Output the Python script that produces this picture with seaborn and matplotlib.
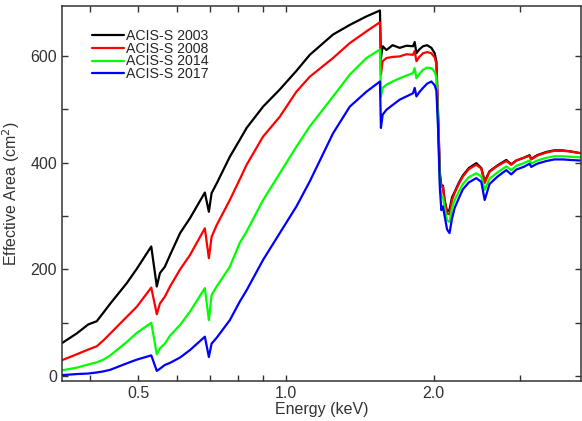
import numpy as np
import pandas as pd
import matplotlib
matplotlib.use("Agg")
import matplotlib.pyplot as plt
from matplotlib.ticker import FixedLocator, NullFormatter, FixedFormatter
import seaborn as sns

energy = [0.35, 0.375, 0.396, 0.412, 0.425, 0.439, 0.474, 0.497, 0.532, 0.546,
          0.554, 0.567, 0.581, 0.609, 0.638, 0.684, 0.697, 0.706, 0.723, 0.769,
          0.806, 0.832, 0.899, 0.972, 1.051, 1.119, 1.248, 1.350, 1.460, 1.555,
          1.562, 1.575, 1.603, 1.65, 1.706, 1.76, 1.816, 1.830, 1.845, 1.87,
          1.903, 1.94, 1.979, 2.010, 2.026, 2.041, 2.060, 2.074, 2.089, 2.106,
          2.13, 2.155, 2.18, 2.207, 2.25, 2.294, 2.36, 2.443, 2.501, 2.541,
          2.600, 2.70, 2.812, 2.878, 2.947, 3.05, 3.136, 3.161, 3.25, 3.392,
          3.52, 3.666, 3.80, 3.964, 4.0]

area_2003 = [62, 80, 97, 103, 119, 136, 174, 201, 243, 168,
             193, 205, 227, 268, 296, 344, 308, 343, 361, 411,
             443, 465, 505, 537, 572, 602, 640, 658, 674, 685,
             596, 618, 611, 620, 615, 619, 618, 626, 605, 612,
             618, 620, 615, 605, 590, 500, 380, 355, 357, 330,
             308, 312, 335, 345, 362, 376, 390, 399, 390, 365,
             384, 395, 405, 397, 404, 409, 414, 407, 414, 420,
             423, 423, 421, 418, 418]

area_2008 = [30, 41, 50, 56, 67, 80, 111, 130, 166, 116,
             136, 149, 168, 200, 227, 277, 221, 261, 283, 330,
             369, 396, 449, 486, 533, 561, 596, 624, 646, 663,
             565, 590, 596, 598, 599, 603, 602, 609, 590, 598,
             605, 607, 605, 597, 585, 495, 375, 355, 355, 328,
             305, 303, 330, 343, 360, 374, 388, 396, 389, 362,
             383, 394, 403, 396, 404, 409, 413, 406, 413, 419,
             422, 422, 421, 418, 418]

area_2014 = [11, 16, 22, 26, 31, 39, 64, 81, 100, 41,
             52, 61, 76, 96, 121, 165, 105, 152, 168, 205,
             250, 271, 330, 380, 430, 468, 524, 565, 596, 612,
             524, 540, 546, 552, 558, 563, 568, 577, 558, 566,
             574, 578, 577, 570, 560, 480, 360, 336, 336, 315,
             292, 289, 315, 330, 345, 360, 373, 380, 374, 349,
             370, 382, 393, 386, 394, 399, 404, 398, 404, 409,
             412, 412, 411, 410, 410]

area_2017 = [2, 4, 5, 7, 9, 12, 24, 31, 39, 10,
             14, 21, 25, 35, 49, 74, 36, 61, 72, 105,
             140, 161, 218, 268, 318, 365, 455, 505, 533, 552,
             465, 490, 499, 508, 518, 524, 530, 540, 524, 532,
             540, 548, 552, 545, 535, 470, 350, 311, 318, 300,
             275, 268, 295, 315, 333, 350, 363, 371, 364, 330,
             360, 374, 386, 378, 387, 392, 398, 392, 398, 403,
             406, 406, 405, 404, 404]

labels = ["ACIS-S 2003", "ACIS-S 2008", "ACIS-S 2014", "ACIS-S 2017"]
colors = ["#000000", "#ff0000", "#00ff00", "#0000ff"]
x_major = [0.5, 1.0, 2.0]
x_major_labels = ["0.5", "1.0", "2.0"]
x_minor = [0.4, 0.6, 0.7, 0.8, 0.9, 3.0]

frames = []
for lab, vals in zip(labels, [area_2003, area_2008, area_2014, area_2017]):
    frames.append(pd.DataFrame({"Energy": energy, "Area": vals, "Series": lab}))
df = pd.concat(frames, ignore_index=True)

sns.set_style("ticks")
plt.rcParams['font.family'] = ['Liberation Sans', 'DejaVu Sans']

fig = plt.figure(figsize=(5.82, 4.21), dpi=100)
ax = fig.add_axes([0.1065, 0.095, 0.8925, 0.8915])

sns.lineplot(data=df, x="Energy", y="Area", hue="Series", palette=colors,
             hue_order=labels, sort=False, estimator=None, linewidth=1.6, ax=ax)

ax.set_xscale("log")
ax.set_xlim(0.35, 4.0)
ax.set_ylim(-9, 694)
ax.xaxis.set_major_locator(FixedLocator(x_major))
ax.xaxis.set_major_formatter(FixedFormatter(x_major_labels))
ax.xaxis.set_minor_locator(FixedLocator(x_minor))
ax.xaxis.set_minor_formatter(NullFormatter())
ax.yaxis.set_major_locator(FixedLocator([0, 200, 400, 600]))
ax.yaxis.set_minor_locator(FixedLocator([100, 300, 500]))

ax.tick_params(which="both", direction="in", top=True, right=True,
               length=4.5, width=1, color="#333333", labelsize=11.5, labelcolor="#333333")
for sp in ax.spines.values():
    sp.set_color("#333333")
    sp.set_linewidth(1.1)

ax.set_xlabel("Energy (keV)", fontsize=11.5, color="#333333", labelpad=1)
ax.set_ylabel("Effective Area (cm$^2$)", fontsize=11.5, color="#333333", labelpad=6)

leg = ax.legend(loc="upper left", bbox_to_anchor=(0.057, 0.937), frameon=False,
                fontsize=10.2, handlelength=2.3, handletextpad=0.12,
                labelspacing=-0.1, borderpad=0, borderaxespad=0)
for line in leg.get_lines():
    line.set_linewidth(1.6)

fig.savefig("out.png", dpi=100)
